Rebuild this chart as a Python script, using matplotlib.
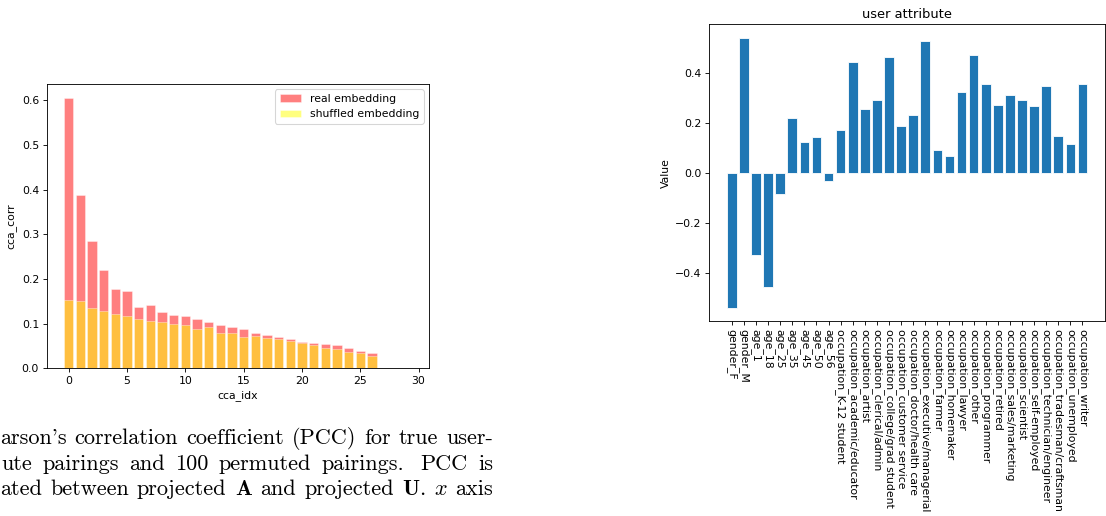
import numpy as np
import matplotlib
matplotlib.use("Agg")
import matplotlib.pyplot as plt

# ---- CCA correlations: real vs shuffled embedding ----
cca_idx = list(range(30))
real_corr = [0.606, 0.387, 0.286, 0.221, 0.177, 0.173, 0.138, 0.141, 0.125, 0.120,
             0.118, 0.110, 0.104, 0.098, 0.092, 0.088, 0.080, 0.074, 0.071, 0.065,
             0.058, 0.057, 0.054, 0.052, 0.045, 0.039, 0.035, 0.0, 0.0, 0.0]
shuffled_corr = [0.152, 0.150, 0.135, 0.128, 0.122, 0.116, 0.110, 0.106, 0.104, 0.099,
                 0.097, 0.087, 0.092, 0.078, 0.078, 0.070, 0.072, 0.068, 0.066, 0.062,
                 0.056, 0.052, 0.046, 0.043, 0.037, 0.034, 0.027, 0.0, 0.0, 0.0]

# ---- user attribute weights ----
attributes = ["gender_F", "gender_M", "age_1", "age_18", "age_25", "age_35", "age_45",
              "age_50", "age_56", "occupation_K-12 student", "occupation_academic/educator",
              "occupation_artist", "occupation_clerical/admin", "occupation_college/grad student",
              "occupation_customer service", "occupation_doctor/health care",
              "occupation_executive/managerial", "occupation_farmer", "occupation_homemaker",
              "occupation_lawyer", "occupation_other", "occupation_programmer",
              "occupation_retired", "occupation_sales/marketing", "occupation_scientist",
              "occupation_self-employed", "occupation_technician/engineer",
              "occupation_tradesman/craftsman", "occupation_unemployed", "occupation_writer"]
attr_values = [-0.536, 0.540, -0.325, -0.456, -0.085, 0.219, 0.123, 0.145, -0.033, 0.171,
               0.443, 0.257, 0.293, 0.465, 0.189, 0.232, 0.529, 0.093, 0.069, 0.325,
               0.472, 0.356, 0.271, 0.312, 0.293, 0.267, 0.347, 0.148, 0.116, 0.354]

# ---- caption fragment ----
caption_lines = [
    ["arson's", "correlation", "coefficient", "(PCC)", "for", "true", "user-"],
    ["ute", "pairings", "and", "100", "permuted", "pairings.", "PCC", "is"],
    ["ated", "between", "projected", r"$\mathbf{A}$", "and", "projected",
     r"$\mathbf{U}\mathrm{.}$", r"$x$", "axis"],
]

W, H = 1106, 516
S = 0.78
plt.rcParams.update({
    "font.size": 10 * S,
    "axes.linewidth": 0.8 * S,
    "xtick.major.size": 3.5 * S, "ytick.major.size": 3.5 * S,
    "xtick.major.width": 0.8 * S, "ytick.major.width": 0.8 * S,
    "xtick.major.pad": 3.5 * S, "ytick.major.pad": 3.5 * S,
    "axes.labelpad": 4.0 * S, "axes.titlepad": 6.0 * S,
    "patch.linewidth": 1.0 * S,
})

fig = plt.figure(figsize=(W / 100, H / 100), dpi=100)

def box(l, t, r, b):
    return [l / W, 1 - b / H, (r - l) / W, (b - t) / H]

# left: CCA correlation bars
ax1 = fig.add_axes(box(46.7, 84, 429, 368.3))
ax1.bar(cca_idx, real_corr, color="red", alpha=0.5, edgecolor="white",
        linewidth=0.5, label="real embedding")
ax1.bar(cca_idx, shuffled_corr, color="yellow", alpha=0.5, edgecolor="white",
        linewidth=0.5, label="shuffled embedding")
ax1.set_xlabel("cca_idx")
ax1.set_ylabel("cca_corr")
ax1.legend(loc="upper right")

# right: user attribute bars
ax2 = fig.add_axes(box(709, 24.3, 1105.3, 321))
pos = np.arange(len(attributes))
ax2.bar(pos, attr_values, color="#1f77b4", edgecolor="white", linewidth=0.6)
ax2.set_xticks(pos)
ax2.set_xticklabels(attributes, rotation=270)
ax2.set_ylabel("Value")
ax2.set_title("user attribute")

# caption text, justified between fixed margins (wider space after a sentence)
renderer = fig.canvas.get_renderer()
line_specs = [(0.0, 493.0, 444.0), (1.0, 493.0, 469.5), (0.0, 493.0, 495.0)]
for words, (left, right, base) in zip(caption_lines, line_specs):
    texts = [fig.text(0, 1 - base / H, w, fontsize=16, family="cmr10",
                      math_fontfamily="cm", va="baseline", ha="left")
             for w in words]
    widths = [t.get_window_extent(renderer).width for t in texts]
    weights = [1.6 if w.endswith("s.") else 1.0 for w in words[:-1]]
    unit = (right - left - sum(widths)) / sum(weights)
    x = left
    for i, (t, w) in enumerate(zip(texts, widths)):
        t.set_x(x / W)
        if i < len(weights):
            x += w + unit * weights[i]

fig.savefig("out.png", dpi=100)
